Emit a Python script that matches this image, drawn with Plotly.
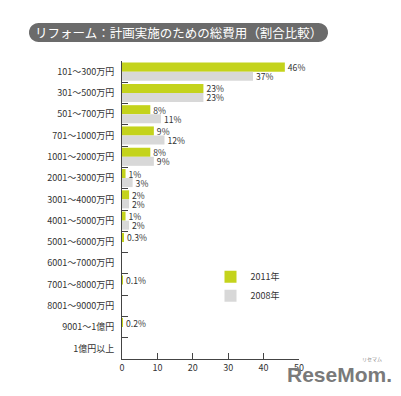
import plotly.graph_objects as go
import numpy as np

categories = ["101～300万円", "301～500万円", "501～700万円", "701～1000万円", "1001～2000万円",
              "2001～3000万円", "3001～4000万円", "4001～5000万円", "5001～6000万円", "6001～7000万円",
              "7001～8000万円", "8001～9000万円", "9001～1億円", "1億円以上"]
vals_2011 = [46, 23, 8, 9, 8, 1, 2, 1, 0.3, 0, 0.1, 0, 0.2, 0]
vals_2008 = [37, 23, 11, 12, 9, 3, 2, 2, 0, 0, 0, 0, 0, 0]
x_ticks = [0, 10, 20, 30, 40, 50]

W, H = 401, 396
L, R, T, B = 122, 102, 61, 37

def lab(v, show):
    if not show:
        return ""
    return f"{v:g}%"

txt_2011 = [lab(v, v > 0) for v in vals_2011]
txt_2008 = [lab(v, v > 0) for v in vals_2008]

FONT = "Noto Sans CJK JP"
fig = go.Figure()
fig.add_trace(go.Bar(y=categories, x=vals_2011, orientation="h", name="2011年",
                     marker=dict(color="#c4d31c", line=dict(width=0)),
                     text=txt_2011, textposition="outside", cliponaxis=False, constraintext="none",
                     textfont=dict(size=8.6, color="#333", family=FONT)))
fig.add_trace(go.Bar(y=categories, x=vals_2008, orientation="h", name="2008年",
                     marker=dict(color="#d8d8d8", line=dict(width=0)),
                     text=txt_2008, textposition="outside", cliponaxis=False, constraintext="none",
                     textfont=dict(size=8.6, color="#333", family=FONT)))

# rounded title pill (geometry in pixels converted to paper coords)
pw = W - L - R
ph = H - T - B
def px2paper(px, py):
    return (px - L) / pw, (H - B - py) / ph
x0, x1, y0, y1 = 29, 328, 23, 42
r = (y1 - y0) / 2
cy = (y0 + y1) / 2
pts = []
for a in np.linspace(-np.pi / 2, np.pi / 2, 20):
    pts.append((x1 - r + r * np.cos(a), cy + r * np.sin(a)))
for a in np.linspace(np.pi / 2, 3 * np.pi / 2, 20):
    pts.append((x0 + r + r * np.cos(a), cy + r * np.sin(a)))
path = "M " + " L ".join(f"{px2paper(x, y)[0]:.5f},{px2paper(x, y)[1]:.5f}" for x, y in pts) + " Z"

fig.add_shape(type="path", path=path, xref="paper", yref="paper",
              fillcolor="#6b6b6b", line=dict(width=0), layer="below")
tx, ty = px2paper((x0 + x1) / 2, cy)
fig.add_annotation(text="リフォーム：計画実施のための総費用（割合比較）", x=tx, y=ty,
                   xref="paper", yref="paper", showarrow=False, xanchor="center", yanchor="middle",
                   font=dict(size=12.5, color="white", family=FONT))

lx, ly = px2paper(339, 374)
fig.add_annotation(text="<b>ReseMom.</b>", x=lx, y=ly, xref="paper", yref="paper",
                   showarrow=False, xanchor="center", yanchor="middle",
                   font=dict(size=21, color="#7a7a7a", family="Liberation Sans"))
sx, sy = px2paper(372, 359)
fig.add_annotation(text="リセマム", x=sx, y=sy, xref="paper", yref="paper",
                   showarrow=False, xanchor="center", yanchor="middle",
                   font=dict(size=5, color="#888", family=FONT))

fig.update_layout(
    width=W, height=H,
    margin=dict(l=L, r=R, t=T, b=B, autoexpand=False),
    paper_bgcolor="white", plot_bgcolor="white",
    barmode="group", bargap=0.15, bargroupgap=0,
    font=dict(family=FONT, color="#333"),
    showlegend=True,
    legend=dict(x=0.5, y=0.325, xanchor="left", yanchor="top",
                font=dict(size=9, color="#333", family=FONT),
                bgcolor="rgba(0,0,0,0)", itemwidth=30, tracegroupgap=0),
    xaxis=dict(range=[0, 50], tickvals=x_ticks, ticks="inside", ticklen=6, tickcolor="#444",
               showline=True, linecolor="#444", linewidth=1, showgrid=False, zeroline=False,
               automargin=False, tickfont=dict(size=9, color="#333", family=FONT)),
    yaxis=dict(autorange="reversed", ticks="inside", tickson="boundaries", ticklen=6,
               tickcolor="#444", showline=True, linecolor="#444", linewidth=1, showgrid=False,
               automargin=False, ticklabelstandoff=5, tickfont=dict(size=9, color="#333", family=FONT)),
)
fig.write_html("out.html", post_script="document.body.style.margin='0';",
               config={"displayModeBar": False})
